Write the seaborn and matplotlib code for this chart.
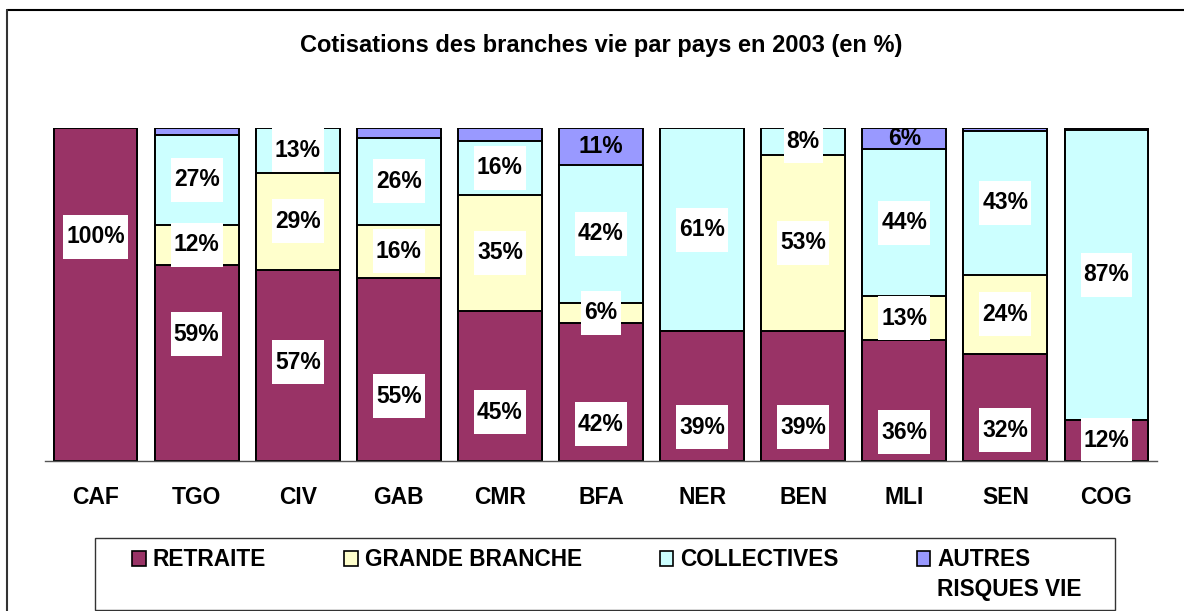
import numpy as np
import pandas as pd
import seaborn as sns
import matplotlib.pyplot as plt
from matplotlib.patches import Rectangle, Patch
from matplotlib.lines import Line2D
from matplotlib.path import Path

sns.set_style("white")
plt.rcParams["font.family"] = ["Liberation Sans", "DejaVu Sans"]
plt.rcParams["font.weight"] = "bold"
plt.rcParams["text.color"] = "black"

pays = ["CAF", "TGO", "CIV", "GAB", "CMR", "BFA", "NER", "BEN", "MLI", "SEN", "COG"]
retraite = [100, 59, 57.4, 55, 45, 41.5, 39, 39, 36.3, 32, 12.4]
grande_branche = [0, 12, 29.2, 16, 35, 6, 0, 53, 13.2, 24, 0]
collectives = [0, 27, 13.4, 26, 16, 41.5, 61, 8, 44.2, 43, 87.1]
autres = [0, 2, 0, 3, 4, 11, 0, 0, 6.3, 1, 0.5]

series_names = ["RETRAITE", "GRANDE BRANCHE", "COLLECTIVES", "AUTRES"]
colors = ["#993366", "#FFFFCC", "#CCFFFF", "#9999FF"]

# where the RETRAITE labels sit (the original chart does not centre them)
retraite_label_y = [67.4, 38.1, 29.7, 19.5, 14.6, 11.0, 10.1, 10.1, 8.6, 9.2, 6.2]

df = pd.DataFrame({"pays": pays, "retraite": retraite, "grande": grande_branche,
                   "collectives": collectives, "autres": autres})
cols = ["retraite", "grande", "collectives", "autres"]
cum = df[cols].cumsum(axis=1)


def label_box(x0, y0, width, height, mutation_size):
    # white box: tight horizontally, fixed 44 px tall
    cy = y0 + height / 2
    h, px = 44, 3
    verts = [(x0 - px, cy - h / 2), (x0 + width + px, cy - h / 2),
             (x0 + width + px, cy + h / 2), (x0 - px, cy + h / 2), (x0 - px, cy - h / 2)]
    return Path(verts, closed=True)


fig = plt.figure(figsize=(11.84, 6.11), dpi=100)
ax = fig.add_axes([45 / 1184, 150 / 611, 1112 / 1184, 333 / 611])

# stacked bars: draw cumulative totals from the top layer down
for i in range(len(cols) - 1, -1, -1):
    layer = pd.DataFrame({"pays": pays, "val": cum[cols[i]]})
    sns.barplot(data=layer, x="pays", y="val", color=colors[i], saturation=1,
                edgecolor="black", linewidth=1.4, width=0.83, errorbar=None, ax=ax)

# value labels
for j in range(len(pays)):
    base = 0
    for i, c in enumerate(cols):
        v = df.loc[j, c]
        if v >= 5:
            y = retraite_label_y[j] if c == "retraite" else base + v / 2
            box = None if c == "autres" else dict(boxstyle=label_box, fc="white", ec="none")
            ax.text(j, y, f"{v:.0f}%", ha="center", va="center", fontsize=16.5,
                    fontweight="bold", color="black", bbox=box, clip_on=True)
        base += v

ax.set_ylim(0, 100)
ax.set_xlim(-0.5, len(pays) - 0.5)
ax.set_xlabel("")
ax.set_ylabel("")
ax.set_yticks([])
ax.set_xticks(np.arange(-0.5, len(pays)), labels=[])
ax.set_xticks(np.arange(len(pays)), labels=pays, minor=True)
ax.tick_params(axis="x", which="major", length=6, width=1, color="#555555", direction="out")
ax.tick_params(axis="x", which="minor", length=0, pad=18, labelsize=16.5, labelcolor="black")
for lab in ax.get_xticklabels(minor=True):
    lab.set_fontweight("bold")
for s in ["top", "left", "right"]:
    ax.spines[s].set_visible(False)
ax.spines["bottom"].set_color("#555555")
ax.spines["bottom"].set_linewidth(1)

fig.text(0.508, 0.926, "Cotisations des branches vie par pays en 2003 (en %)",
         ha="center", va="center", fontsize=17, fontweight="bold", color="black")

# outer chart border (top and left visible)
fig.add_artist(Line2D([7 / 1184, 1], [601 / 611, 601 / 611], color="black", lw=1.5))
fig.add_artist(Line2D([7 / 1184, 7 / 1184], [0, 601 / 611], color="#333333", lw=1.5))

# legend box
fig.add_artist(Rectangle((95 / 1184, 1 / 611), 1020 / 1184, 72 / 611, transform=fig.transFigure,
                         fill=False, ec="#333333", lw=1))
handles = [Patch(facecolor=c, edgecolor="black", lw=1.2) for c in colors]
leg = fig.legend(handles, series_names, loc="upper left", bbox_to_anchor=(121 / 1184, 1 - 537 / 611),
                 ncol=4, frameon=False, prop={"weight": "bold", "size": 16.3},
                 handlelength=0.6, handleheight=0.6, handletextpad=0.3, columnspacing=3.45,
                 borderpad=0)
for t in leg.get_texts():
    t.set_color("black")

fig.canvas.draw()
ext = leg.get_texts()[3].get_window_extent()
fig.text(ext.x0 / 1184, (ext.y0 - 30) / 611 + ext.height / 2 / 611, "RISQUES VIE",
         ha="left", va="center", fontsize=16.3, fontweight="bold", color="black")

fig.savefig("out.png", dpi=100)
